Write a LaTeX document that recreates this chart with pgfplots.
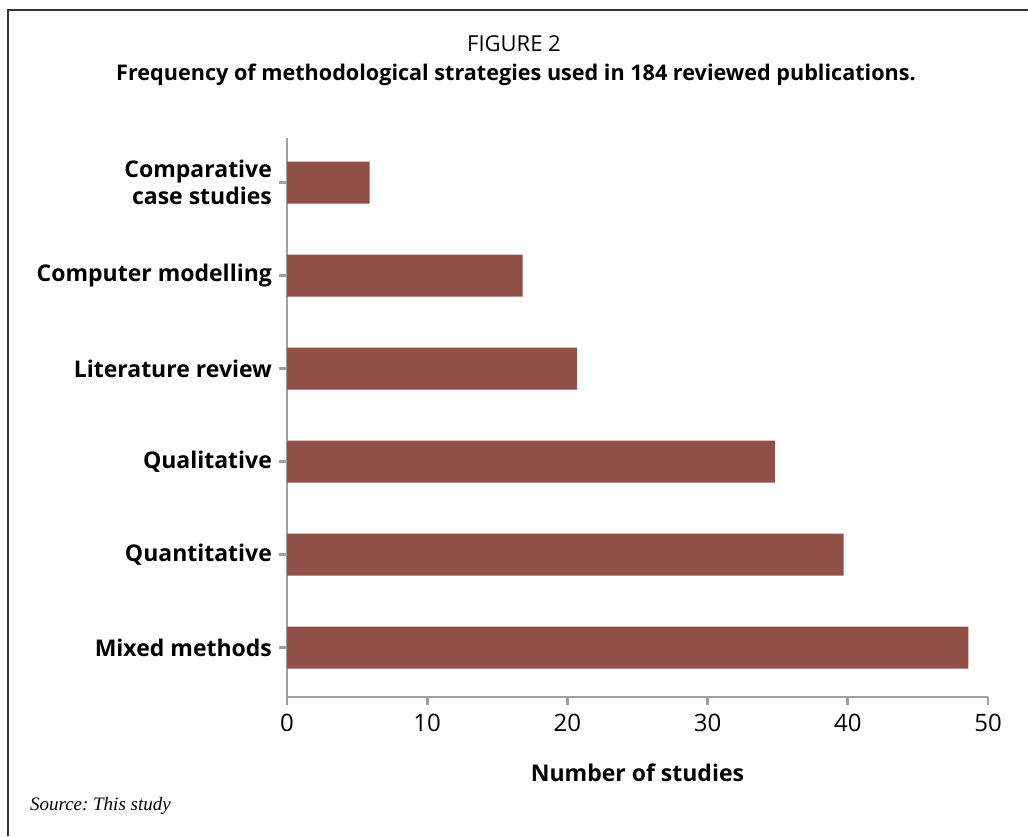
\documentclass[border=0pt]{standalone}
\usepackage{pgfplots}
\pgfplotsset{compat=1.18}
\usepackage{fontspec}
\setmainfont{Open Sans}
\newfontfamily\srcfont{Liberation Serif}
\definecolor{barred}{RGB}{145,80,71}
\definecolor{axgray}{RGB}{160,160,160}
\begin{document}
\frenchspacing
\begin{tikzpicture}[x=1pt,y=1pt]
\useasboundingbox (0,0) rectangle (514,418);
% frame (cropped on right and bottom)
\draw[line width=0.6pt,black!80] (4,0) -- (4,413) -- (514,413);
\node[font=\fontsize{11}{13}\selectfont] at (257,396) {FIGURE 2};
\node[font=\fontsize{10.8}{13}\selectfont\bfseries] at (258,380.5) {Frequency of methodological strategies used in 184 reviewed publications.};
\begin{axis}[
    at={(143.5pt,69.5pt)}, anchor=south west,
    scale only axis,
    width=350.5pt, height=279.5pt,
    xbar, bar width=21pt,
    xmin=0, xmax=50,
    ymin=-0.53, ymax=5.48,
    xtick={0,10,...,50},
    ytick={0,...,5},
    yticklabels={Mixed methods, Quantitative, Qualitative, Literature review, Computer modelling, {Comparative\\case studies}},
    yticklabel style={align=right, font=\fontsize{11.5}{13.5}\selectfont\bfseries},
    xticklabel style={font=\fontsize{12}{14}\selectfont, yshift=-1pt},
    /pgf/number format/assume math mode=true,
    axis x line*=bottom, axis y line*=left,
    axis line style={axgray, line width=1.4pt, -},
    tick style={axgray, line width=1.4pt},
    tick align=outside, major tick length=4pt,
    xlabel={Number of studies},
    xlabel style={font=\fontsize{11.5}{13.5}\selectfont\bfseries, yshift=-9pt},
]
\addplot[fill=barred, draw=none] coordinates {(48.6,0) (39.7,1) (34.8,2) (20.7,3) (16.8,4) (5.9,5)};
\end{axis}
\node[anchor=west, font=\srcfont\itshape\fontsize{9.5}{11}\selectfont] at (11.5,15) {Source: This study};
\end{tikzpicture}
\end{document}
